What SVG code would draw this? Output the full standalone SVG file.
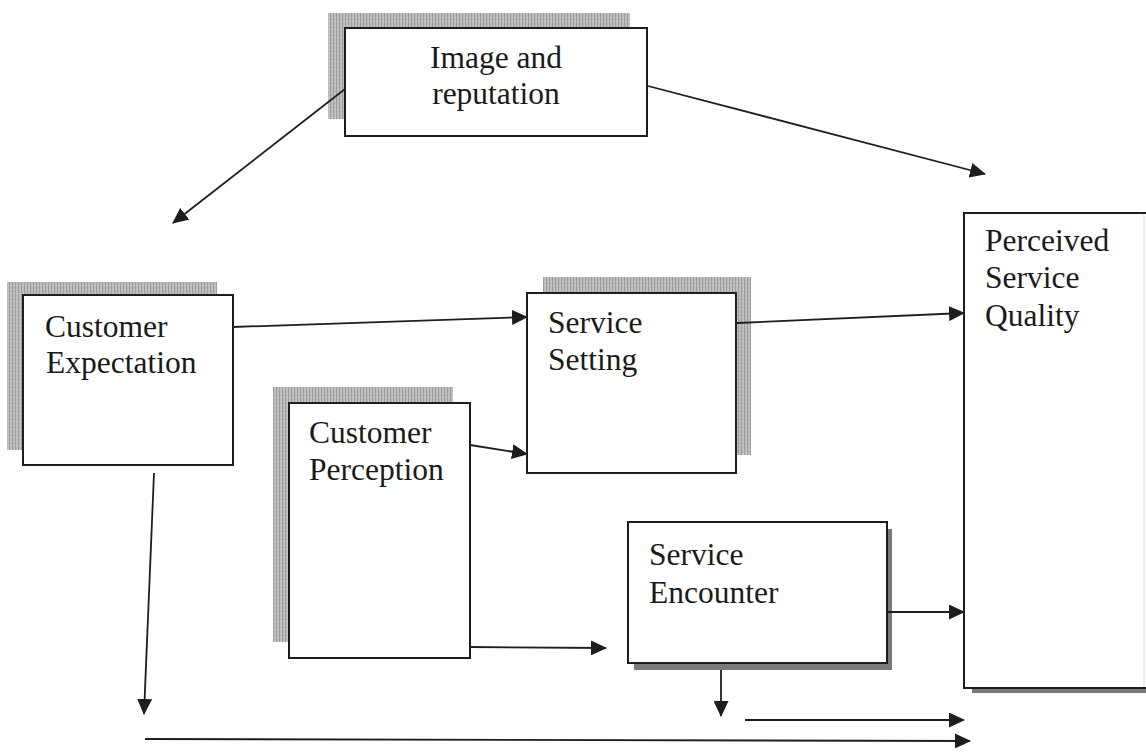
<svg xmlns="http://www.w3.org/2000/svg" width="1146" height="752" viewBox="0 0 1146 752">
  <style>
    .box { fill: #ffffff; stroke: #1e1e1e; stroke-width: 2; }
    .shade { fill: url(#stipple); }
    .shade-dark { fill: #7a7a7a; }
    .label { font-family: "Liberation Serif", "Times New Roman", serif; font-size: 31.5px; fill: #1a1a1a; }
    .link { stroke: #1e1e1e; stroke-width: 1.8; fill: none; marker-end: url(#head); }
  </style>
  <defs>
    <!-- fine vertical hatching used for the soft box shadows -->
    <pattern id="stipple" width="3" height="4" patternUnits="userSpaceOnUse">
      <rect width="3" height="4" fill="#bcbcbc"/>
      <rect width="1" height="4" fill="#9c9c9c"/>
      <rect x="2" y="1" width="1" height="1" fill="#d2d2d2"/>
    </pattern>
    <marker id="head" markerWidth="16" markerHeight="15" refX="15" refY="7.5" orient="auto" markerUnits="userSpaceOnUse">
      <path d="M0,0 L16,7.5 L0,15 Z" fill="#1e1e1e"/>
    </marker>
  </defs>
  <rect width="1146" height="752" fill="#ffffff"/>

  <g id="node-image-reputation">
    <rect class="shade" x="328" y="13" width="302" height="106"/>
    <rect class="box" x="345" y="28" width="302" height="108"/>
    <text class="label" x="496" y="68" text-anchor="middle">Image and</text>
    <text class="label" x="496" y="104" text-anchor="middle">reputation</text>
  </g>

  <g id="node-customer-expectation">
    <rect class="shade" x="7" y="282" width="210" height="168"/>
    <rect class="box" x="23" y="295" width="210" height="170"/>
    <text class="label" x="45" y="337">Customer</text>
    <text class="label" x="46" y="373">Expectation</text>
  </g>

  <g id="node-service-setting">
    <rect class="shade" x="543" y="277" width="208" height="178"/>
    <rect class="box" x="527" y="293" width="209" height="180"/>
    <text class="label" x="548" y="333">Service</text>
    <text class="label" x="548" y="370">Setting</text>
  </g>

  <g id="node-customer-perception">
    <rect class="shade" x="273" y="387" width="180" height="255"/>
    <rect class="box" x="289" y="403" width="181" height="255"/>
    <text class="label" x="309" y="443">Customer</text>
    <text class="label" x="309" y="480">Perception</text>
  </g>

  <g id="node-service-encounter">
    <rect class="shade-dark" x="634" y="529" width="258" height="141"/>
    <rect class="box" x="628" y="522" width="259" height="141"/>
    <text class="label" x="649" y="565">Service</text>
    <text class="label" x="649" y="603">Encounter</text>
  </g>

  <g id="node-perceived-service-quality">
    <rect class="shade-dark" x="972" y="219" width="180" height="474"/>
    <rect class="box" x="964" y="213" width="186" height="475"/>
    <line x1="1144" y1="214" x2="1144" y2="687" stroke="#d8d8d8" stroke-width="1"/>
    <text class="label" x="985" y="251">Perceived</text>
    <text class="label" x="985" y="288">Service</text>
    <text class="label" x="985" y="326">Quality</text>
  </g>

  <g id="connectors">
    <line class="link" x1="345" y1="89" x2="173" y2="223"/>
    <line class="link" x1="648" y1="86" x2="985" y2="174"/>
    <line class="link" x1="233" y1="327" x2="527" y2="317"/>
    <line class="link" x1="737" y1="323" x2="964" y2="313"/>
    <line class="link" x1="470" y1="445" x2="527" y2="454"/>
    <line class="link" x1="470" y1="647" x2="606" y2="648"/>
    <line class="link" x1="888" y1="612" x2="964" y2="612"/>
    <line class="link" x1="721" y1="670" x2="721" y2="716"/>
    <line class="link" x1="745" y1="720" x2="964" y2="720"/>
    <line class="link" x1="154" y1="473" x2="144" y2="714"/>
    <line class="link" x1="145" y1="739" x2="970" y2="741"/>
  </g>
</svg>
